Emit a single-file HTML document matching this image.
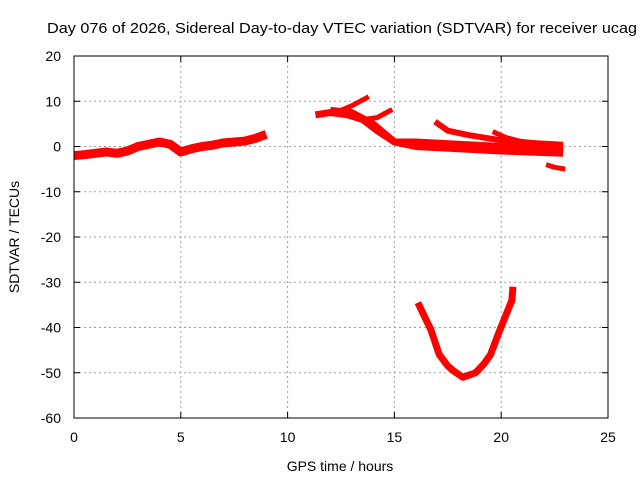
<!DOCTYPE html>
<html><head><meta charset="utf-8"><style>
body{margin:0;background:#fff}
svg{display:block;font-family:"Liberation Sans",sans-serif}
</style></head><body>
<svg id="chart" width="640" height="480" viewBox="0 0 640 480">
<rect width="640" height="480" fill="#fff"/>
<g id="grid"></g><g id="marks"></g><g id="axes"></g>
<text x="47" y="33" font-size="15" textLength="590" lengthAdjust="spacingAndGlyphs">Day 076 of 2026, Sidereal Day-to-day VTEC variation (SDTVAR) for receiver ucag</text>
<text x="340" y="471" font-size="14" text-anchor="middle">GPS time / hours</text>
<text x="19" y="237" font-size="14" text-anchor="middle" transform="rotate(-90 19 237)">SDTVAR / TECUs</text>
</svg>
<script>
const xTicks=[0,5,10,15,20,25];
const yTicks=[20,10,0,-10,-20,-30,-40,-50,-60];
const sA_h=[0,0.5,1,1.5,2,2.5,3,3.5,4,4.5,5,5.5,6,6.5,7,7.5,8,8.5,9];
const sA_v=[-2,-1.8,-1.5,-1.2,-1.5,-1,0,0.5,1,0.5,-1.2,-0.5,0,0.3,0.8,1,1.2,1.8,2.7];
const sB_h=[11.3,12,12.8,13.5,14.2,15,16,18,20,22,22.9];
const sB_v=[7,7.5,7,6,3.5,1,1,0.5,0,-0.5,-1];
const sC_h=[11.6,12.5,13,13.8];
const sC_v=[7,8,9,11];
const sD_h=[12,13,14,15,16,18,20,22.9];
const sD_v=[8,7.5,5,1,0,-0.5,-1,-1.5];
const sE_h=[13.6,14.2,14.9];
const sE_v=[6,6.4,8.2];
const sF_h=[16.9,17.5,18.5,19.8,21,22.9];
const sF_v=[5.5,3.5,2.5,1.5,1,0];
const sG_h=[19.6,20.2,21,22.9];
const sG_v=[3.3,2,1,0.5];
const sH_h=[22.1,22.5,23];
const sH_v=[-4,-4.6,-5];
const sP_h=[16.1,16.4,16.7,17.1,17.5,17.8,18.2,18.8,19.2,19.5,19.9,20.2,20.5,20.55];
const sP_v=[-34.5,-37.5,-40.4,-46,-48.5,-49.7,-51,-50,-48,-46,-41,-37.5,-34,-31];
const NS='http://www.w3.org/2000/svg';
const X0=74,X1=608,Y0=56,Y1=418;
function xs(h){return X0+(h-0)/(25-0)*(X1-X0);}
function ys(v){return Y1-(v+60)/(80)*(Y1-Y0);}
function mk(t,a,p){const e=document.createElementNS(NS,t);for(const k in a)e.setAttribute(k,a[k]);p.appendChild(e);return e;}
const grid=document.getElementById('grid'),axes=document.getElementById('axes'),marks=document.getElementById('marks');
xTicks.forEach(t=>{const x=xs(t);
 if(t>0&&t<25){const g=mk('line',{x1:x,x2:x,y1:Y0,y2:Y1,stroke:'#a0a0a0','stroke-dasharray':'2,3'},grid);
 
 }
 mk('line',{x1:x,x2:x,y1:Y1,y2:Y1-6,stroke:'#000'},axes);mk('line',{x1:x,x2:x,y1:Y0,y2:Y0+6,stroke:'#000'},axes);
 const tx=mk('text',{x:x,y:Y1+24,'font-size':14,'text-anchor':'middle'},axes);tx.textContent=t;
 
 });
yTicks.forEach(t=>{const y=ys(t);
 if(t<20&&t>-60){const g=mk('line',{x1:X0,x2:X1,y1:y,y2:y,stroke:'#a0a0a0','stroke-dasharray':'2,3'},grid);
 
 }
 mk('line',{x1:X0,x2:X0+6,y1:y,y2:y,stroke:'#000'},axes);mk('line',{x1:X1,x2:X1-6,y1:y,y2:y,stroke:'#000'},axes);
 const tx=mk('text',{x:X0-13,y:y+5,'font-size':14,'text-anchor':'end'},axes);tx.textContent=t;
 
 });
const frame=mk('rect',{x:X0,y:Y0,width:X1-X0,height:Y1-Y0,fill:'none',stroke:'#000'},axes);


const series=[[sA_h,sA_v,9,'series-morning'],[sB_h,sB_v,7,'series-b'],[sC_h,sC_v,5,'series-c'],[sD_h,sD_v,7,'series-d'],[sE_h,sE_v,5,'series-e'],[sF_h,sF_v,6,'series-f'],[sG_h,sG_v,5,'series-g'],[sH_h,sH_v,5,'series-h'],[sP_h,sP_v,7,'series-parabola']];
series.forEach(s=>{const pts=s[0].map((h,i)=>xs(h)+','+ys(s[1][i])).join(' ');
 const p=mk('polyline',{points:pts,fill:'none',stroke:'#ff0000','stroke-width':s[2],'stroke-linejoin':'round'},marks);
 
 });
</script>
</body></html>
